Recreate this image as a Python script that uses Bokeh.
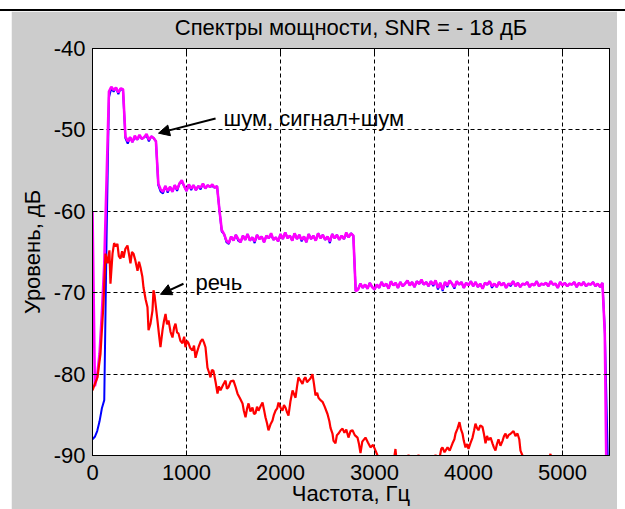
from bokeh.plotting import figure
from bokeh.models import (Range1d, LinearAxis, FixedTicker, Label, Arrow, NormalHead,
                          CustomJSTickFormatter, Div, Spacer)
from bokeh.layouts import column, row
from bokeh.embed import file_html
from bokeh.resources import INLINE
import numpy as np

# ---------------- data ----------------
HZ_STEP = 25  # spectral bin spacing, Hz

# signal + noise spectrum (magenta), dB, one value per 25 Hz bin from 0 Hz
sig_noise_db = [
    -60.0, -81.5, -80.2, -77.5, -72.5, -66.5, -56.0, -45.3, -44.7, -45.1,
    -44.8, -45.4, -44.9, -45.0, -50.8, -51.4, -50.9, -51.5, -50.7, -51.2,
    -50.6, -51.1, -50.9, -50.5, -51.2, -50.8, -51.0, -51.4, -56.6, -57.3,
    -57.6, -56.9, -57.5, -57.0, -57.6, -56.8, -57.3, -56.6, -56.2, -56.9,
    -57.5, -56.7, -57.2, -56.8, -57.4, -56.9, -57.1, -56.6, -57.2, -56.8,
    -57.0, -56.7, -57.1, -56.9, -59.8, -62.3, -62.8,
    -63.6, -63.9, -63.1, -63.6, -62.9, -63.4, -63.8, -63.0, -63.5, -62.8,
    -63.6, -63.2, -63.7, -62.9, -63.4, -63.1, -63.8, -63.0, -63.3, -62.7,
    -63.5, -63.2, -63.7, -62.8, -63.4, -62.6, -63.3, -63.0, -63.6, -62.7,
    -63.4, -62.9, -63.5, -63.1, -63.8, -62.8, -63.4, -63.0, -63.6, -62.7,
    -63.3, -62.9, -63.5, -63.1, -63.7, -62.8, -63.3, -62.9, -63.5, -63.0,
    -63.4, -62.6, -63.2, -62.7, -63.0,
    -69.8,
    -69.6, -68.9, -69.4, -69.0, -69.5, -68.8, -69.3, -69.6, -69.0, -69.4,
    -68.7, -69.2, -68.9, -69.5, -68.6, -69.1, -68.8, -69.4, -68.7, -69.2,
    -68.9, -68.5, -69.1, -68.7, -69.3, -68.6, -68.9, -68.4, -69.0, -68.7,
    -69.2, -68.6, -69.0, -68.5, -69.4, -68.8, -69.6, -68.7, -69.1, -68.5,
    -68.9, -69.3, -68.6, -69.0, -68.7, -69.4, -68.8, -69.1, -68.6, -69.2,
    -68.7, -69.3, -68.9, -69.5, -68.8, -69.0, -68.6, -69.2, -68.9, -69.3,
    -68.7, -69.1, -68.8, -69.4, -68.9, -69.0, -68.6, -69.2, -68.8, -69.3,
    -68.9, -69.0, -68.7, -69.3, -68.9, -69.1, -68.6, -69.2, -68.9, -69.0,
    -68.8, -69.2, -68.6, -69.0, -68.9, -69.4, -68.7, -69.1, -68.8, -69.2,
    -68.9, -69.0, -68.7, -69.3, -68.8, -69.1, -68.7, -69.2, -68.9, -69.0,
    -68.7, -69.2, -68.9, -69.3, -68.8,
    -75.0, -100.0, -100.0,
]

# noise spectrum (blue), dB, same bins
noise_db = [
    -88.0, -87.7, -87.0, -85.8, -84.2, -83.2, -63.0, -46.0, -44.9, -45.3,
    -44.8, -45.6, -44.9, -45.2, -51.0, -51.7, -50.9, -51.5, -50.9, -51.2,
    -50.8, -51.1, -50.9, -50.7, -51.4, -50.8, -51.0, -51.4, -56.8, -57.6,
    -57.8, -56.9, -57.7, -57.0, -57.6, -56.8, -57.5, -56.6, -56.4, -56.9,
    -57.5, -56.7, -57.4, -56.8, -57.4, -56.9, -57.3, -56.6, -57.2, -56.8,
    -57.0, -56.9, -57.1, -56.9, -59.8, -62.5, -62.8,
    -63.8, -64.0, -63.1, -63.6, -62.9, -63.6, -63.8, -63.0, -63.5, -62.8,
    -63.6, -63.2, -63.9, -62.9, -63.4, -63.1, -63.8, -63.0, -63.3, -62.9,
    -63.5, -63.2, -63.7, -62.8, -63.4, -62.6, -63.3, -63.0, -63.6, -62.7,
    -63.4, -62.9, -63.7, -63.1, -63.8, -62.8, -63.4, -63.0, -63.6, -62.7,
    -63.3, -62.9, -63.5, -63.1, -63.9, -62.8, -63.3, -62.9, -63.5, -63.0,
    -63.4, -62.8, -63.2, -62.7, -63.0,
    -69.8,
    -69.6, -68.9, -69.4, -69.0, -69.5, -68.8, -69.3, -69.6, -69.0, -69.4,
    -68.7, -69.2, -68.9, -69.5, -68.6, -69.1, -68.8, -69.4, -68.7, -69.2,
    -68.9, -68.5, -69.1, -68.7, -69.3, -68.6, -68.9, -68.6, -69.0, -68.7,
    -69.2, -68.6, -69.2, -68.5, -69.6, -68.8, -69.8, -68.7, -69.3, -68.5,
    -68.9, -69.5, -68.6, -69.0, -68.7, -69.4, -68.8, -69.1, -68.6, -69.2,
    -68.7, -69.3, -68.9, -69.5, -68.8, -69.0, -68.6, -69.4, -68.9, -69.3,
    -68.7, -69.1, -68.8, -69.4, -68.9, -69.2, -68.6, -69.2, -68.8, -69.3,
    -68.9, -69.0, -68.7, -69.3, -68.9, -69.1, -68.6, -69.2, -68.9, -69.0,
    -68.8, -69.2, -68.6, -69.0, -68.9, -69.4, -68.7, -69.1, -68.8, -69.2,
    -68.9, -69.0, -68.7, -69.3, -68.8, -69.1, -68.7, -69.2, -68.9, -69.0,
    -68.7, -69.2, -68.9, -69.3, -68.8,
    -74.5, -87.0, -100.0,
]

# speech spectrum (red)
speech_hz = [
    0, 25, 53, 85, 117, 138, 160, 180, 191, 213, 230, 245, 265, 280, 298, 315,
    330, 350, 372, 390, 404, 420, 436, 455, 479, 495, 511, 530, 543, 565, 585,
    596, 617, 638, 649, 660, 675, 691, 708, 723, 745, 760, 777, 793, 809, 830,
    851, 868, 883, 900, 915, 935, 957, 975, 989, 1005, 1021, 1040, 1064, 1080,
    1096, 1112, 1128, 1150, 1170, 1185, 1202, 1223, 1240, 1255, 1270, 1287,
    1310, 1330, 1345, 1362, 1390, 1415, 1430, 1447, 1470, 1500, 1520, 1543,
    1570, 1596, 1610, 1628, 1645, 1660, 1680, 1702, 1718, 1734, 1750, 1766,
    1790, 1809, 1825, 1840, 1856, 1872, 1893, 1915, 1930, 1947, 1965, 1979,
    2000, 2021, 2037, 2053, 2070, 2085, 2105, 2128, 2145, 2160, 2175, 2191,
    2213, 2234, 2250, 2266, 2282, 2298, 2320, 2340, 2356, 2372, 2390, 2404,
    2425, 2447, 2470, 2500, 2520, 2532, 2553, 2564, 2585, 2600, 2617, 2640,
    2660, 2680, 2700, 2723, 2745, 2766, 2790, 2819, 2835, 2851, 2870, 2904,
    2930, 2957, 2985, 3011, 3043, 3070, 3100, 3150, 3200, 3223, 3240, 3300,
    3350, 3362, 3375, 3420, 3455, 3468, 3480, 3550, 3620, 3649, 3665, 3690,
    3710, 3723, 3745, 3777, 3800, 3830, 3850, 3862, 3883, 3904, 3920, 3936,
    3950, 3968, 3985, 4000, 4020, 4043, 4060, 4074, 4090, 4106, 4125, 4149,
    4165, 4181, 4197, 4213, 4235, 4255, 4270, 4287, 4303, 4319, 4340, 4362,
    4378, 4394, 4410, 4426, 4450, 4479, 4500, 4521, 4540, 4553, 4574, 4600,
    4650, 4750, 4850, 4872, 4890, 5000, 5200, 5400, 5500,
]
speech_db = [
    -82.0, -81.2, -80.4, -77.5, -71.3, -65.2, -66.4, -64.8, -68.9, -65.2, -63.9,
    -64.3, -64.0, -65.5, -65.8, -64.9, -65.7, -64.6, -64.2, -65.4, -66.4, -65.0,
    -65.2, -66.0, -67.3, -66.2, -66.9, -68.0, -69.4, -70.8, -71.8, -74.6, -73.8,
    -72.2, -69.7, -70.3, -71.8, -73.4, -75.2, -76.7, -74.6, -73.5, -72.6, -73.9,
    -73.4, -74.8, -75.5, -74.3, -73.8, -74.9, -75.0, -75.9, -76.2, -75.4, -76.7,
    -75.9, -76.2, -76.8, -77.1, -76.5, -78.0, -77.3, -76.7, -76.0, -75.7, -76.1,
    -76.7, -79.2, -79.8, -80.4, -79.5, -79.6, -81.0, -82.4, -81.5, -82.0, -81.3,
    -80.8, -81.8, -81.6, -80.9, -80.8, -81.5, -82.4, -83.0, -83.6, -84.5, -85.3,
    -84.2, -83.6, -84.6, -84.1, -84.9, -84.8, -84.0, -84.5, -83.9, -83.5, -84.4,
    -85.3, -86.0, -86.9, -86.2, -85.7, -85.0, -84.5, -84.2, -83.5, -84.1, -84.5,
    -83.8, -84.1, -84.7, -85.1, -83.4, -82.0, -82.5, -82.9, -81.6, -80.4, -80.8,
    -81.2, -80.6, -80.4, -81.0, -80.8, -80.5, -80.0, -81.2, -82.6, -82.3, -82.9,
    -83.2, -83.4, -84.0, -84.9, -85.8, -86.6, -87.3, -88.2, -88.5, -87.5, -87.3,
    -86.9, -86.7, -87.2, -86.8, -87.8, -87.0, -86.9, -87.5, -87.8, -88.6, -89.7,
    -88.3, -87.8, -88.4, -89.0, -88.7, -89.4, -90.3, -91.5, -92.5, -93.0, -91.0,
    -89.2, -91.2, -92.5, -91.0, -89.9, -91.3, -92.0, -91.0, -89.9, -91.2, -92.5,
    -91.3, -89.9, -90.8, -90.4, -89.2, -89.0, -89.6, -89.0, -89.4, -88.5, -88.0,
    -87.3, -86.7, -85.9, -86.8, -87.3, -88.2, -89.0, -88.6, -89.2, -88.5, -87.8,
    -86.9, -86.1, -86.6, -86.9, -86.3, -86.5, -87.4, -88.5, -87.6, -88.1, -87.8,
    -88.5, -89.0, -89.4, -88.6, -88.0, -88.8, -88.2, -87.6, -87.3, -87.9, -87.5,
    -87.3, -87.0, -87.6, -87.3, -88.0, -89.4, -90.0, -91.5, -93.0, -92.0, -90.8,
    -89.8, -91.0, -93.5, -94.0, -95.0, -97.0,
]

x_ticks = [0, 1000, 2000, 3000, 4000, 5000]
y_ticks = [-90, -80, -70, -60, -50, -40]

title_text = "Спектры мощности, SNR = - 18 дБ"
x_label = "Частота, Гц"
y_label = "Уровень, дБ"

# annotations: text anchors and arrows (data coordinates)
ann_texts = ["шум, сигнал+шум", "речь"]
ann_text_x = [1394, 1096]
ann_text_y = [-48.6, -68.7]
arrow_x0 = [1309, 968]
arrow_y0 = [-48.6, -68.9]
arrow_x1 = [702, 723]
arrow_y1 = [-50.4, -70.2]

# ---------------- figure ----------------
FONT = "Liberation Sans"
FS = "22px"
GRAY = "#cccccc"

freq = np.arange(len(sig_noise_db)) * HZ_STEP
freq_n = np.arange(len(noise_db)) * HZ_STEP

p = figure(frame_width=517, frame_height=407,
           x_range=Range1d(0, 5500), y_range=Range1d(-90, -40),
           output_backend="svg", toolbar_location=None,
           min_border_left=81, min_border_right=8, min_border_top=37, min_border_bottom=54)
p.border_fill_color = GRAY
p.background_fill_color = "white"
p.outline_line_color = "black"
p.outline_line_width = 1

for ax in (p.xaxis[0], p.yaxis[0]):
    ax.axis_label_text_font = FONT
    ax.axis_label_text_font_size = FS
    ax.axis_label_text_font_style = "normal"
    ax.axis_label_text_color = "black"
    ax.major_label_text_font = FONT
    ax.major_label_text_font_size = FS
    ax.major_label_text_color = "black"
    ax.axis_line_color = "black"
    ax.major_tick_line_color = "black"
    ax.major_tick_in = 5
    ax.major_tick_out = 0
    ax.minor_tick_line_color = None
    ax.major_label_standoff = 7

p.xaxis[0].ticker = FixedTicker(ticks=x_ticks)
p.yaxis[0].ticker = FixedTicker(ticks=y_ticks)
p.yaxis[0].major_label_overrides = {t: str(t) for t in y_ticks}
p.xaxis[0].axis_label = x_label
p.yaxis[0].axis_label = y_label
p.xaxis[0].major_label_standoff = 9
p.xaxis[0].axis_label_standoff = -2
p.yaxis[0].axis_label_standoff = 6

# top axis: tick marks only, carrying the chart title as its label
top = LinearAxis(ticker=FixedTicker(ticks=x_ticks),
                 formatter=CustomJSTickFormatter(code="return ''"),
                 major_tick_in=5, major_tick_out=0, minor_tick_line_color=None,
                 axis_line_color="black", major_label_standoff=0,
                 major_label_text_font_size="0px",
                 axis_label=title_text, axis_label_text_font=FONT,
                 axis_label_text_font_size="22px", axis_label_text_font_style="normal",
                 axis_label_text_color="black", axis_label_standoff=9)
right = LinearAxis(ticker=FixedTicker(ticks=y_ticks),
                   formatter=CustomJSTickFormatter(code="return ''"),
                   major_tick_in=5, major_tick_out=0, minor_tick_line_color=None,
                   axis_line_color="black", major_label_standoff=0,
                   major_label_text_font_size="0px")
p.add_layout(top, "above")
p.add_layout(right, "right")

for g in (p.xgrid[0], p.ygrid[0]):
    g.grid_line_color = "black"
    g.grid_line_dash = "4 3"
    g.grid_line_width = 1
p.xgrid[0].ticker = FixedTicker(ticks=x_ticks[1:])
p.ygrid[0].ticker = FixedTicker(ticks=y_ticks[1:-1])

p.line(freq_n, noise_db, line_color="#0000ff", line_width=2)
p.line(freq, sig_noise_db, line_color="#ff00ff", line_width=2.6)
p.line(speech_hz, speech_db, line_color="#ff0000", line_width=2.2)

for t, tx, ty in zip(ann_texts, ann_text_x, ann_text_y):
    p.add_layout(Label(x=tx, y=ty, text=t, text_font=FONT, text_font_size=FS,
                       text_baseline="middle", text_align="left", text_color="black"))
for xs, ys, xe, ye in zip(arrow_x0, arrow_y0, arrow_x1, arrow_y1):
    p.add_layout(Arrow(x_start=xs, y_start=ys, x_end=xe, y_end=ye,
                       line_color="black", line_width=2,
                       end=NormalHead(size=11, fill_color="black", line_color="black")))

layout = column(
    Spacer(width=625, height=9, margin=0),
    Div(text="", width=625, height=2, margin=0, styles={"background-color": "black"}),
    row(Spacer(width=11, height=498, margin=0), p, margin=0),
    margin=0,
)

open("out.html", "w").write(file_html(layout, INLINE))
